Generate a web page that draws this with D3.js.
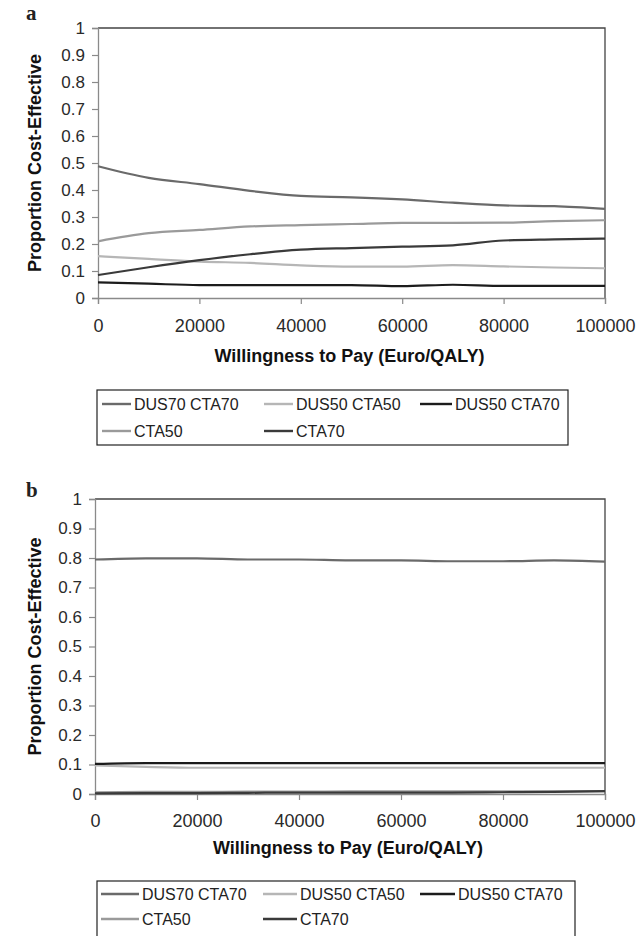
<!DOCTYPE html>
<html>
<head>
<meta charset="utf-8">
<script src="https://cdn.jsdelivr.net/npm/d3@7"></script>
<style>
  html, body { margin: 0; padding: 0; background: #fff; }
  svg { display: block; }
</style>
</head>
<body>
<svg id="chart" width="638" height="936"></svg>
<script>
// Willingness-to-pay thresholds (Euro/QALY)
const wtp = [0, 10000, 20000, 30000, 40000, 50000, 60000, 70000, 80000, 90000, 100000];
const xTicks = [0, 20000, 40000, 60000, 80000, 100000];
const yTicks = [0, 0.1, 0.2, 0.3, 0.4, 0.5, 0.6, 0.7, 0.8, 0.9, 1];
const strategies = ["DUS70 CTA70", "DUS50 CTA50", "DUS50 CTA70", "CTA50", "CTA70"];
const strategyColors = ["#6a6a6a", "#b6b6b6", "#1c1c1c", "#9a9a9a", "#3a3a3a"];

// Panel a: proportion cost-effective per strategy
const a_DUS70_CTA70 = [0.488, 0.445, 0.422, 0.397, 0.378, 0.373, 0.365, 0.353, 0.343, 0.340, 0.330];
const a_DUS50_CTA50 = [0.155, 0.145, 0.135, 0.130, 0.121, 0.116, 0.116, 0.122, 0.117, 0.113, 0.110];
const a_DUS50_CTA70 = [0.058, 0.053, 0.048, 0.048, 0.048, 0.048, 0.044, 0.049, 0.045, 0.045, 0.045];
const a_CTA50       = [0.210, 0.240, 0.252, 0.265, 0.270, 0.274, 0.278, 0.278, 0.279, 0.285, 0.288];
const a_CTA70       = [0.085, 0.114, 0.140, 0.162, 0.179, 0.185, 0.190, 0.195, 0.213, 0.217, 0.220];

// Panel b: proportion cost-effective per strategy
const b_DUS70_CTA70 = [0.795, 0.799, 0.799, 0.795, 0.795, 0.792, 0.792, 0.789, 0.789, 0.792, 0.788];
const b_DUS50_CTA50 = [0.097, 0.092, 0.089, 0.089, 0.089, 0.089, 0.089, 0.089, 0.089, 0.089, 0.089];
const b_DUS50_CTA70 = [0.102, 0.105, 0.105, 0.105, 0.105, 0.105, 0.105, 0.105, 0.105, 0.105, 0.105];
const b_CTA50       = [0.006, 0.007, 0.007, 0.008, 0.008, 0.009, 0.009, 0.009, 0.009, 0.009, 0.010];
const b_CTA70       = [0.002, 0.003, 0.003, 0.004, 0.005, 0.005, 0.005, 0.005, 0.006, 0.007, 0.010];

const panels = [
  {
    letter: "a", letterX: 26, letterY: 20,
    left: 98, right: 605, top: 28, bottom: 298,
    xLabelY: 332, xTitleY: 362, yTitleX: 41,
    legend: { x: 97, y: 390, w: 471, h: 55, row1: 404, row2: 431,
              cols: [ [102, 131], [264, 293], [420, 452] ] },
    series: [a_DUS70_CTA70, a_DUS50_CTA50, a_DUS50_CTA70, a_CTA50, a_CTA70]
  },
  {
    letter: "b", letterX: 26, letterY: 497,
    left: 95, right: 605, top: 499, bottom: 794,
    xLabelY: 827, xTitleY: 854, yTitleX: 41,
    legend: { x: 97, y: 881, w: 478, h: 70, row1: 894, row2: 919,
              cols: [ [101, 139], [263, 297], [420, 455] ] },
    series: [b_DUS70_CTA70, b_DUS50_CTA50, b_DUS50_CTA70, b_CTA50, b_CTA70]
  }
];

const svg = d3.select("#chart");
const font = "'Liberation Sans', Arial, sans-serif";

panels.forEach(p => {
  const g = svg.append("g");
  const x = d3.scaleLinear().domain([0, 100000]).range([p.left, p.right]);
  const y = d3.scaleLinear().domain([0, 1]).range([p.bottom, p.top]);

  // panel letter
  g.append("text")
    .attr("x", p.letterX).attr("y", p.letterY)
    .attr("font-family", "'Liberation Serif', 'Times New Roman', serif")
    .attr("font-weight", "bold").attr("font-size", 21)
    .attr("fill", "#222")
    .text(p.letter);

  // plot frame (top and right)
  g.append("path")
    .attr("d", `M${p.left},${p.top}H${p.right}V${p.bottom}`)
    .attr("fill", "none").attr("stroke", "#444").attr("stroke-width", 1.3);

  // y axis
  const yAxis = d3.axisLeft(y).tickValues(yTicks).tickSize(6).tickPadding(7)
    .tickFormat(d => d3.format("~g")(d));
  const ya = g.append("g").attr("transform", `translate(${p.left},0)`).call(yAxis);
  ya.select(".domain").attr("stroke", "#8a8a8a").attr("stroke-width", 1.3);
  ya.selectAll(".tick line").attr("stroke", "#8a8a8a").attr("stroke-width", 1.2);
  ya.selectAll(".tick text").attr("font-family", font).attr("font-size", 17).attr("fill", "#2a2a2a");

  // x axis
  const xAxis = d3.axisBottom(x).tickValues(xTicks).tickSize(6).tickFormat(d3.format("d"));
  const xa = g.append("g").attr("transform", `translate(0,${p.bottom})`).call(xAxis);
  xa.select(".domain").attr("stroke", "#8a8a8a").attr("stroke-width", 1.3);
  xa.selectAll(".tick line").attr("stroke", "#8a8a8a").attr("stroke-width", 1.2);
  xa.selectAll(".tick text").attr("font-family", font).attr("font-size", 18).attr("fill", "#2a2a2a")
    .attr("y", null).attr("dy", null)
    .attr("transform", `translate(0,${p.xLabelY - p.bottom})`);

  // axis titles
  g.append("text")
    .attr("x", (p.left + p.right) / 2 - 2).attr("y", p.xTitleY)
    .attr("text-anchor", "middle")
    .attr("font-family", font).attr("font-weight", "bold").attr("font-size", 18)
    .attr("fill", "#111")
    .text("Willingness to Pay (Euro/QALY)");

  g.append("text")
    .attr("transform", `translate(${p.yTitleX},${(p.top + p.bottom) / 2}) rotate(-90)`)
    .attr("text-anchor", "middle")
    .attr("font-family", font).attr("font-weight", "bold").attr("font-size", 18)
    .attr("fill", "#111")
    .text("Proportion Cost-Effective");

  // series lines
  const line = d3.line()
    .x((d, i) => x(wtp[i]))
    .y(d => y(d))
    .curve(d3.curveMonotoneX);

  p.series.forEach((vals, i) => {
    g.append("path")
      .datum(vals)
      .attr("d", line)
      .attr("fill", "none")
      .attr("stroke", strategyColors[i])
      .attr("stroke-width", 2.2)
      .attr("stroke-linejoin", "round");
  });

  // legend
  const L = p.legend;
  g.append("rect")
    .attr("x", L.x).attr("y", L.y).attr("width", L.w).attr("height", L.h)
    .attr("fill", "#fff").attr("stroke", "#222").attr("stroke-width", 1.2);

  const slots = [
    { row: L.row1, col: 0 }, { row: L.row1, col: 1 }, { row: L.row1, col: 2 },
    { row: L.row2, col: 0 }, { row: L.row2, col: 1 }
  ];
  strategies.forEach((name, i) => {
    const s = slots[i];
    const [x0, x1] = L.cols[s.col];
    g.append("line")
      .attr("x1", x0).attr("x2", x1).attr("y1", s.row).attr("y2", s.row)
      .attr("stroke", strategyColors[i]).attr("stroke-width", 2.4);
    g.append("text")
      .attr("x", x1 + 3).attr("y", s.row).attr("dy", "0.36em")
      .attr("font-family", font).attr("font-size", 16).attr("fill", "#222")
      .text(name);
  });
});
</script>
</body>
</html>
